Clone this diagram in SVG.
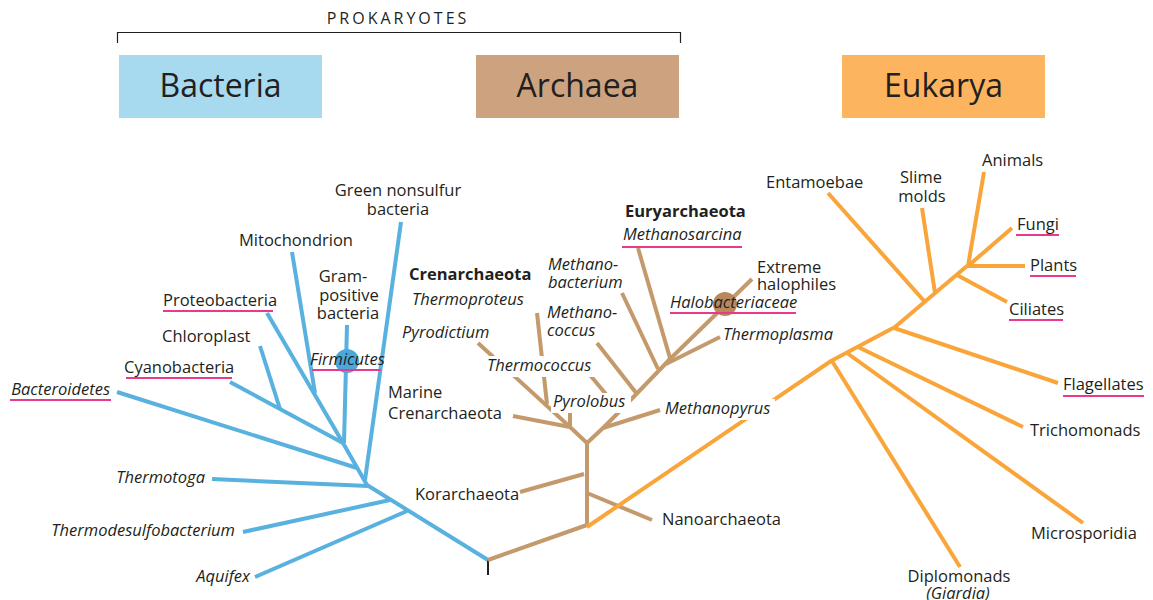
<svg xmlns="http://www.w3.org/2000/svg" width="1153" height="600" viewBox="0 0 1153 600">
<style>
text{font-family:"Open Sans","Noto Sans","Liberation Sans",sans-serif;fill:#231f20;font-size:16.5px}
.it{font-style:italic}
.b{font-weight:bold}
.mid{text-anchor:middle}
.end{text-anchor:end}
.title{font-size:32px;text-anchor:middle}
.bl{stroke:#58b1de;stroke-width:4;fill:none;stroke-linejoin:round}
.br{stroke:#c49a6c;stroke-width:4;fill:none;stroke-linejoin:round}
.or{stroke:#f9a53a;stroke-width:4;fill:none;stroke-linejoin:round}
.ul{stroke:#e8398c;stroke-width:2}
.ko{fill:#ffffff}
</style>
<rect width="1153" height="600" fill="#ffffff"/>
<g id="header">
<text x="398" y="24" class="mid" style="font-size:16px;letter-spacing:3px">PROKARYOTES</text>
<path d="M117.5 43V32.5H680.5V43" fill="none" stroke="#231f20" stroke-width="1.2"/>
</g>
<g id="bacteria-box"><rect x="119" y="55" width="203" height="63" fill="#a7d9ef"/><text x="220.5" y="97" class="title">Bacteria</text></g>
<g id="archaea-box"><rect x="476" y="55" width="203" height="63" fill="#cda37f"/><text x="577.5" y="97" class="title">Archaea</text></g>
<g id="eukarya-box"><rect x="842" y="55" width="203" height="63" fill="#fdb45e"/><text x="943.5" y="97" class="title">Eukarya</text></g>

<g id="connectors">
<line x1="488" y1="560" x2="488" y2="575" stroke="#231f20" stroke-width="2"/>
<!-- Bacteria -->
<polyline class="bl" points="488,560 367,485 343,443"/>
<line class="bl" x1="255" y1="577" x2="407" y2="511"/>
<line class="bl" x1="243" y1="532" x2="390" y2="500"/>
<line class="bl" x1="212" y1="479" x2="368" y2="486"/>
<line class="bl" x1="117" y1="392" x2="357" y2="468"/>
<line class="bl" x1="401" y1="222" x2="365" y2="480"/>
<line class="bl" x1="347" y1="325" x2="344" y2="443"/>
<circle cx="347" cy="361" r="12" fill="#4aa8da"/>
<line class="bl" x1="267" y1="313" x2="343" y2="443"/>
<line class="bl" x1="292" y1="252" x2="315" y2="393"/>
<line class="bl" x1="230" y1="382" x2="343" y2="443"/>
<line class="bl" x1="260" y1="346" x2="280" y2="409"/>
<!-- Archaea -->
<polyline class="br" points="488,560 587,525 587,443 570,427"/>
<line class="br" x1="520" y1="492" x2="584" y2="474"/>
<line class="br" x1="587" y1="493" x2="652" y2="520"/>
<line class="br" x1="513" y1="416" x2="570" y2="427"/>
<line class="br" x1="570" y1="412" x2="570" y2="427"/>
<line class="br" x1="478" y1="343" x2="570" y2="427"/>
<line class="br" x1="537" y1="313" x2="547" y2="404"/>
<polyline class="br" points="587,443 603,428 620,411 672,357"/>
<line class="br" x1="603" y1="428" x2="660" y2="410"/>
<line class="br" x1="590" y1="375" x2="620" y2="411"/>
<line class="br" x1="597" y1="343" x2="637" y2="394"/>
<line class="br" x1="622" y1="293" x2="658" y2="369"/>
<line class="br" x1="638" y1="248" x2="670" y2="358"/>
<line class="br" x1="752" y1="279" x2="668" y2="361"/>
<circle cx="725" cy="304" r="12" fill="#b8895c"/>
<line class="br" x1="720" y1="337" x2="666" y2="364"/>
<!-- Eukarya -->
<polyline class="or" points="587,527 831,361 895,327 967,266"/>
<line class="or" x1="832" y1="361" x2="960" y2="567"/>
<line class="or" x1="847" y1="353" x2="1083" y2="523"/>
<line class="or" x1="858" y1="347" x2="1023" y2="427"/>
<line class="or" x1="894" y1="328" x2="1058" y2="383"/>
<line class="or" x1="828" y1="193" x2="925" y2="302"/>
<line class="or" x1="922" y1="208" x2="935" y2="293"/>
<line class="or" x1="957" y1="275" x2="1007" y2="302"/>
<line class="or" x1="984" y1="172" x2="968" y2="266"/>
<line class="or" x1="967" y1="266" x2="1025" y2="266"/>
<line class="or" x1="968" y1="266" x2="1012" y2="228"/>
</g>

<g id="knockouts">
<rect class="ko" x="485" y="356" width="109" height="21"/>
<rect class="ko" x="551" y="393" width="80" height="20"/>
<rect class="ko" x="663" y="399" width="112" height="21"/>
</g>

<g id="underlines">
<line class="ul" x1="10" y1="400" x2="111" y2="400"/>
<line class="ul" x1="126" y1="378" x2="232" y2="378"/>
<line class="ul" x1="163" y1="311" x2="273" y2="311"/>
<line class="ul" x1="312" y1="370" x2="381" y2="370"/>
<line class="ul" x1="622" y1="247" x2="742" y2="247"/>
<line class="ul" x1="670" y1="313" x2="796" y2="313"/>
<line class="ul" x1="1016" y1="235" x2="1059" y2="235"/>
<line class="ul" x1="1030" y1="276" x2="1076" y2="276"/>
<line class="ul" x1="1009" y1="320" x2="1063" y2="320"/>
<line class="ul" x1="1063" y1="396" x2="1144" y2="396"/>
</g>

<g id="n-green"><text x="398" y="196" class="mid">Green nonsulfur</text><text x="398" y="215" class="mid">bacteria</text></g>
<g id="n-mito"><text x="239" y="246">Mitochondrion</text></g>
<g id="n-gram"><text x="343" y="282" class="mid">Gram-</text><text x="349" y="301" class="mid">positive</text><text x="348" y="319" class="mid">bacteria</text></g>
<g id="n-proteo"><text x="163" y="306">Proteobacteria</text></g>
<g id="n-chloro"><text x="162" y="342">Chloroplast</text></g>
<g id="n-cyano"><text x="124" y="373">Cyanobacteria</text></g>
<g id="n-firm"><text x="310" y="365" class="it">Firmicutes</text></g>
<g id="n-bactero"><text x="110" y="395" class="it end">Bacteroidetes</text></g>
<g id="n-thermotoga"><text x="205" y="483" class="it end">Thermotoga</text></g>
<g id="n-thermodesulfo"><text x="235" y="536" class="it end">Thermodesulfobacterium</text></g>
<g id="n-aquifex"><text x="250" y="582" class="it end">Aquifex</text></g>

<g id="n-cren"><text x="409" y="280" class="b">Crenarchaeota</text></g>
<g id="n-thermoproteus"><text x="412" y="305" class="it">Thermoproteus</text></g>
<g id="n-pyrodictium"><text x="402" y="338" class="it">Pyrodictium</text></g>
<g id="n-thermococcus"><text x="487" y="371" class="it">Thermococcus</text></g>
<g id="n-marine"><text x="388" y="398">Marine</text><text x="388" y="419">Crenarchaeota</text></g>
<g id="n-pyrolobus"><text x="553" y="407" class="it">Pyrolobus</text></g>
<g id="n-methanopyrus"><text x="665" y="414" class="it">Methanopyrus</text></g>
<g id="n-kor"><text x="415" y="500">Korarchaeota</text></g>
<g id="n-nano"><text x="662" y="525">Nanoarchaeota</text></g>
<g id="n-eury"><text x="625" y="217" class="b">Euryarchaeota</text></g>
<g id="n-msarcina"><text x="623" y="240" class="it">Methanosarcina</text></g>
<g id="n-mbact"><text x="548" y="270" class="it">Methano-</text><text x="548" y="288" class="it">bacterium</text></g>
<g id="n-mcoccus"><text x="547" y="318" class="it">Methano-</text><text x="547" y="336" class="it">coccus</text></g>
<g id="n-extreme"><text x="757" y="273">Extreme</text><text x="757" y="290">halophiles</text></g>
<g id="n-halo"><text x="670" y="308" class="it">Halobacteriaceae</text></g>
<g id="n-thermoplasma"><text x="723" y="340" class="it">Thermoplasma</text></g>

<g id="n-entamoebae"><text x="766" y="188">Entamoebae</text></g>
<g id="n-slime"><text x="921" y="183" class="mid">Slime</text><text x="922" y="202" class="mid">molds</text></g>
<g id="n-animals"><text x="982" y="166">Animals</text></g>
<g id="n-fungi"><text x="1017" y="230">Fungi</text></g>
<g id="n-plants"><text x="1030" y="271">Plants</text></g>
<g id="n-ciliates"><text x="1009" y="315">Ciliates</text></g>
<g id="n-flag"><text x="1063" y="390">Flagellates</text></g>
<g id="n-tricho"><text x="1030" y="436">Trichomonads</text></g>
<g id="n-micro"><text x="1031" y="539">Microsporidia</text></g>
<g id="n-diplo"><text x="959" y="582" class="mid">Diplomonads</text><text x="958" y="599" class="mid it">(Giardia)</text></g>
</svg>
